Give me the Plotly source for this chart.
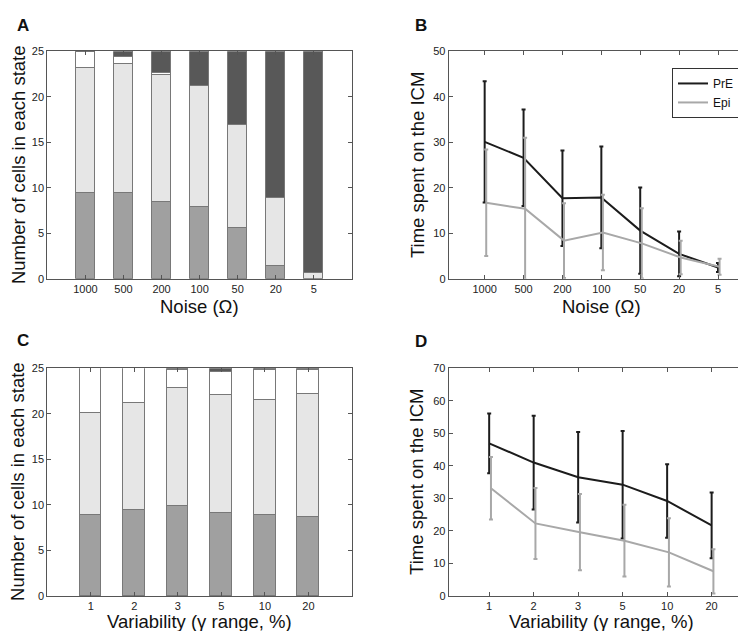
import plotly.graph_objects as go

# panel A: stacked cell states vs noise
noise_labels = ['1000', '500', '200', '100', '50', '20', '5']
a_mid = [9.37, 9.37, 8.37, 7.83, 5.57, 1.36, 0.0]
a_light = [13.76, 14.16, 14.01, 13.29, 11.28, 7.51, 0.61]
a_white = [1.73, 0.86, 0.25, 0.0, 0.0, 0.0, 0.0]
a_dark = [0.14, 0.61, 2.37, 3.88, 8.15, 16.13, 24.39]

# panel B: time on ICM vs noise
b_pre = [30.1, 26.6, 17.7, 17.9, 10.6, 5.5, 2.5]
b_pre_err = [13.3, 10.6, 10.5, 11.2, 9.5, 4.9, 1.0]
b_epi = [16.7, 15.4, 8.4, 10.2, 7.8, 4.7, 2.65]
b_epi_err = [11.7, 15.6, 8.2, 8.3, 7.7, 3.7, 1.75]

# panel C: stacked cell states vs variability
var_labels = ['1', '2', '3', '5', '10', '20']
c_mid = [8.86, 9.47, 9.9, 9.11, 8.9, 8.6]
c_light = [11.15, 11.73, 12.91, 12.95, 12.62, 13.6]
c_white = [4.99, 3.8, 2.01, 2.54, 3.3, 2.55]
c_dark = [0.0, 0.0, 0.18, 0.4, 0.18, 0.25]

# panel D: time on ICM vs variability
d_pre = [46.9, 41.0, 36.5, 34.2, 29.2, 21.7]
d_pre_err = [9.2, 14.4, 13.9, 16.5, 11.3, 10.1]
d_epi = [33.1, 22.3, 19.6, 17.0, 13.4, 7.6]
d_epi_err = [9.6, 10.9, 11.7, 11.0, 10.5, 6.8]

FONT = 'Liberation Sans'
W, H = 746, 631
BLACK = '#1c1c1c'
GRAY = '#a8a8a8'
seg_colors = ['#a0a0a0', '#e6e6e6', '#ffffff', '#585858']


def px_x(a, b):
    return [a / W, b / W]


def px_y(top, bottom):
    return [1 - bottom / H, 1 - top / H]


fig = go.Figure()

for xa, ya, segs in [('x', 'y', [a_mid, a_light, a_white, a_dark]),
                     ('x3', 'y3', [c_mid, c_light, c_white, c_dark])]:
    pos = list(range(1, len(segs[0]) + 1))
    for vals, col in zip(segs, seg_colors):
        fig.add_trace(go.Bar(x=pos, y=vals, width=0.5, xaxis=xa, yaxis=ya,
                             marker=dict(color=col, line=dict(color='#787878', width=1)),
                             showlegend=False))

for xa, ya, pre, pre_e, epi, epi_e, leg in [('x2', 'y2', b_pre, b_pre_err, b_epi, b_epi_err, True),
                                             ('x4', 'y4', d_pre, d_pre_err, d_epi, d_epi_err, False)]:
    pos = list(range(1, len(pre) + 1))
    fig.add_trace(go.Scatter(x=pos, y=pre, mode='lines', name='PrE', xaxis=xa, yaxis=ya,
                             line=dict(color=BLACK, width=2), showlegend=leg,
                             error_y=dict(type='data', array=pre_e, color=BLACK, thickness=2, width=2)))
    fig.add_trace(go.Scatter(x=[p + 0.04 for p in pos], y=epi, mode='lines', name='Epi',
                             xaxis=xa, yaxis=ya, line=dict(color=GRAY, width=2), showlegend=leg,
                             error_y=dict(type='data', array=epi_e, color=GRAY, thickness=2, width=2)))

axis_style = dict(showline=True, linecolor='#555555', linewidth=1, mirror='ticks',
                  ticks='inside', ticklen=4, tickcolor='#555555', showgrid=False, zeroline=False,
                  tickfont=dict(family=FONT, size=11, color='#222222'), fixedrange=True)

fig.update_layout(
    width=W, height=H, margin=dict(l=0, r=0, t=0, b=0),
    paper_bgcolor='white', plot_bgcolor='white', barmode='stack', bargap=0,
    font=dict(family=FONT, color='#222222'),
    xaxis=dict(axis_style, domain=px_x(39.3, 344), range=[0, 8], anchor='y',
               tickvals=list(range(1, 8)), ticktext=noise_labels),
    yaxis=dict(axis_style, domain=px_y(38, 270), range=[0, 25], anchor='x', dtick=5),
    xaxis2=dict(axis_style, domain=px_x(440.7, 745), range=[0.075, 7.9], anchor='y2',
                tickvals=list(range(1, 8)), ticktext=noise_labels),
    yaxis2=dict(axis_style, domain=px_y(38, 270), range=[0, 50], anchor='x2', dtick=10),
    xaxis3=dict(axis_style, domain=px_x(39.3, 344), range=[0, 7], anchor='y3',
                tickvals=list(range(1, 7)), ticktext=var_labels),
    yaxis3=dict(axis_style, domain=px_y(361, 593.3), range=[0, 25], anchor='x3', dtick=5),
    xaxis4=dict(axis_style, domain=px_x(440.7, 745), range=[0.09, 6.93], anchor='y4',
                tickvals=list(range(1, 7)), ticktext=var_labels),
    yaxis4=dict(axis_style, domain=px_y(361, 593.3), range=[0, 70], anchor='x4', dtick=10),
    legend=dict(x=664 / W, y=1 - 55 / H, xanchor='left', yanchor='top',
                bgcolor='white', bordercolor='#333333', borderwidth=1, itemwidth=30,
                traceorder='normal', tracegroupgap=0,
                font=dict(family=FONT, size=12, color='#111111')),
)

for txt, x, y in [('A', 7, 12), ('B', 405, 12), ('C', 7, 333), ('D', 405, 334)]:
    fig.add_annotation(text=f'<b>{txt}</b>', x=x / W, y=1 - y / H, xref='paper', yref='paper',
                       xanchor='left', yanchor='middle', showarrow=False,
                       font=dict(family=FONT, size=17, color='#111111'))

titles = [
    ('Number of cells in each state', 10, 154, -90),
    ('Number of cells in each state', 10, 477, -90),
    ('Time spent on the ICM', 409, 154, -90),
    ('Time spent on the ICM', 409, 477, -90),
    ('Noise (Ω)', 191.7, 298, 0),
    ('Noise (Ω)', 593, 298, 0),
    ('Variability (γ range, %)', 191.7, 619, 0),
    ('Variability (γ range, %)', 593, 619, 0),
]
for txt, x, y, ang in titles:
    fig.add_annotation(text=txt, x=x / W, y=1 - y / H, xref='paper', yref='paper',
                       xanchor='center', yanchor='middle', showarrow=False, textangle=ang,
                       font=dict(family=FONT, size=18.5, color='#111111'))

fig.write_html('out.html')
